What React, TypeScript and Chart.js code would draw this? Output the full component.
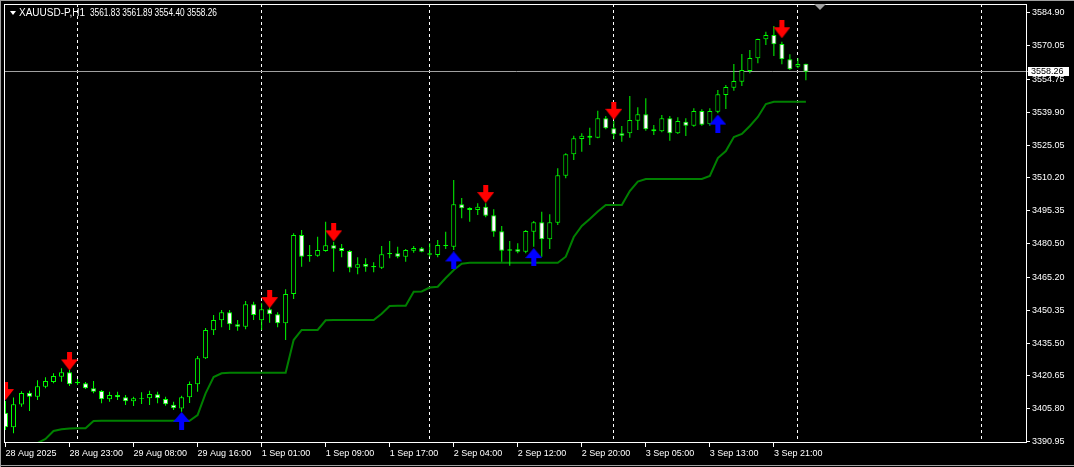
import React, { useEffect, useRef } from "react";
import { Chart, registerables } from "chart.js";

Chart.register(...registerables);

// ---- data (H1 candles, index 0 = 28 Aug 2025 15:00) ----
const OPEN = [
  3404.00, 3397.40, 3407.71, 3413.05, 3411.24, 3415.77, 3417.89, 3420.29, 3422.28, 3417.31,
  3417.31, 3415.04, 3413.82, 3410.07, 3412.01, 3410.97, 3409.16, 3410.20, 3410.52, 3412.32,
  3410.20, 3407.62, 3405.90, 3410.97, 3416.85, 3428.62, 3441.28, 3445.80, 3449.43, 3444.00,
  3442.91, 3453.04, 3445.80, 3450.78, 3448.52, 3444.45, 3457.70, 3484.40, 3474.76, 3475.03,
  3477.16, 3479.74, 3478.52, 3477.16, 3469.60, 3471.28, 3469.78, 3469.60, 3475.66, 3476.12,
  3474.58, 3477.30, 3478.38, 3475.48, 3475.35, 3479.42, 3479.10, 3498.28, 3496.61, 3495.71,
  3497.20, 3493.31, 3486.07, 3477.30, 3477.93, 3476.84, 3485.89, 3490.14, 3482.45, 3489.96,
  3511.22, 3520.90, 3527.83, 3529.32, 3528.41, 3537.19, 3532.67, 3530.41, 3530.41, 3536.10,
  3539.00, 3532.21, 3531.31, 3537.19, 3530.41, 3535.65, 3533.84, 3540.49, 3534.48, 3540.18,
  3547.73, 3551.03, 3553.75, 3558.59, 3564.33, 3572.93, 3574.88, 3570.80, 3563.88, 3560.50,
  3561.83,
];
const HIGH = [
  3409.30, 3410.88, 3413.69, 3413.91, 3418.66, 3420.02, 3421.83, 3424.09, 3423.32, 3419.25,
  3417.89, 3418.35, 3414.27, 3413.50, 3413.50, 3412.01, 3411.24, 3413.23, 3413.96, 3413.50,
  3411.24, 3408.98, 3411.70, 3418.12, 3429.66, 3442.32, 3448.20, 3450.47, 3450.47, 3445.94,
  3454.54, 3454.22, 3453.50, 3451.69, 3449.43, 3459.83, 3485.16, 3486.66, 3479.87, 3483.63,
  3490.41, 3481.36, 3480.33, 3477.61, 3474.31, 3473.86, 3472.05, 3479.42, 3481.68, 3479.10,
  3478.06, 3479.42, 3478.97, 3480.64, 3482.13, 3485.89, 3509.28, 3501.13, 3496.90, 3498.74,
  3498.74, 3496.02, 3488.47, 3481.68, 3480.64, 3486.66, 3490.73, 3494.94, 3493.76, 3514.57,
  3521.36, 3529.32, 3530.41, 3532.94, 3540.63, 3538.23, 3535.97, 3533.71, 3547.28, 3542.17,
  3546.24, 3534.16, 3538.68, 3538.23, 3537.64, 3537.19, 3541.72, 3541.26, 3541.72, 3549.99,
  3552.26, 3561.76, 3566.28, 3568.09, 3573.20, 3576.37, 3578.95, 3571.85, 3566.14, 3564.33,
  3561.89,
];
const LOW = [
  3396.18, 3394.68, 3406.72, 3404.77, 3409.75, 3415.04, 3417.31, 3418.03, 3416.08, 3416.54,
  3414.73, 3412.78, 3408.26, 3408.98, 3409.75, 3407.49, 3407.04, 3407.94, 3407.49, 3408.26,
  3407.17, 3405.23, 3404.46, 3408.39, 3413.50, 3428.30, 3439.16, 3442.64, 3441.42, 3441.10,
  3441.74, 3445.94, 3441.42, 3444.72, 3442.64, 3436.89, 3455.44, 3470.05, 3472.32, 3474.58,
  3476.84, 3467.79, 3474.31, 3467.52, 3466.62, 3467.79, 3467.52, 3469.01, 3473.86, 3473.86,
  3472.32, 3476.39, 3476.57, 3474.58, 3474.31, 3478.06, 3477.61, 3491.95, 3490.41, 3493.44,
  3492.40, 3483.63, 3472.32, 3470.51, 3476.12, 3476.12, 3479.10, 3474.58, 3478.06, 3488.92,
  3510.05, 3518.33, 3522.08, 3525.11, 3528.20, 3532.21, 3527.69, 3526.60, 3528.41, 3531.90,
  3531.58, 3529.64, 3530.86, 3527.06, 3530.09, 3529.18, 3533.39, 3533.84, 3533.84, 3539.45,
  3541.40, 3549.68, 3551.80, 3557.55, 3562.07, 3570.35, 3565.38, 3561.62, 3559.04, 3559.81,
  3554.40,
];
const CLOSE = [
  3397.40, 3407.85, 3412.92, 3411.24, 3415.99, 3418.35, 3420.61, 3422.28, 3416.85, 3418.03,
  3415.04, 3413.50, 3410.07, 3412.01, 3410.97, 3409.16, 3410.52, 3410.52, 3412.46, 3410.52,
  3407.80, 3406.00, 3410.97, 3416.99, 3428.62, 3441.42, 3445.94, 3449.43, 3444.00, 3442.91,
  3453.04, 3448.20, 3450.78, 3448.52, 3444.45, 3457.70, 3484.40, 3474.58, 3475.35, 3477.61,
  3479.74, 3478.20, 3477.16, 3469.60, 3471.14, 3470.05, 3470.37, 3475.66, 3476.25, 3474.58,
  3477.61, 3478.52, 3476.84, 3476.12, 3479.87, 3479.87, 3498.28, 3496.47, 3495.71, 3497.20,
  3493.13, 3485.89, 3477.30, 3477.93, 3476.84, 3486.21, 3490.14, 3482.45, 3490.14, 3511.40,
  3520.90, 3528.14, 3529.32, 3528.41, 3537.19, 3532.67, 3529.95, 3529.32, 3536.42, 3539.00,
  3532.21, 3531.31, 3537.19, 3530.41, 3535.97, 3533.84, 3540.49, 3534.30, 3540.49, 3548.05,
  3551.35, 3554.07, 3559.04, 3564.47, 3573.07, 3574.88, 3570.67, 3563.88, 3559.36, 3561.80,
  3558.26,
];
const TREND_LINE = [
  null, null, null, 3387.0, 3390.30, 3392.11, 3395.73, 3396.49, 3396.81, 3396.94,
  3396.94, 3400.25, 3400.39, 3400.39, 3400.39, 3400.39, 3400.39, 3400.39, 3400.39, 3400.39,
  3400.39, 3400.39, 3400.39, 3400.39, 3402.96, 3412.78, 3420.16, 3421.83, 3422.10, 3422.10,
  3422.10, 3422.10, 3422.10, 3422.10, 3422.10, 3422.10, 3436.89, 3441.42, 3441.42, 3441.42,
  3445.80, 3445.94, 3445.94, 3445.94, 3445.94, 3445.94, 3445.94, 3448.79, 3452.28, 3452.42,
  3452.42, 3458.75, 3458.84, 3460.64, 3461.01, 3464.94, 3468.56, 3471.40, 3471.80, 3471.80,
  3471.80, 3471.80, 3471.80, 3471.80, 3471.80, 3471.80, 3471.80, 3471.80, 3471.80, 3471.80,
  3474.58, 3483.49, 3488.47, 3491.63, 3495.03, 3497.97, 3497.97, 3497.97, 3504.30, 3508.60,
  3509.73, 3509.73, 3509.73, 3509.73, 3509.73, 3509.73, 3509.73, 3509.73, 3511.09, 3519.23,
  3522.40, 3528.73, 3530.09, 3533.71, 3537.78, 3543.66, 3544.70, 3544.70, 3544.70, 3544.70,
  3544.70,
];
const SELL_IDX = [0, 8, 33, 41, 60, 76, 97];
const SELL_PRICE = [3413.8, 3427.2, 3455.4, 3485.6, 3502.9, 3540.6, 3577.5];
const BUY_IDX = [22, 56, 66, 89];
const BUY_PRICE = [3400.3, 3472.9, 3474.4, 3534.8];

const X_LABEL_IDX = [0, 8, 16, 24, 32, 40, 48, 56, 64, 72, 80, 88, 96];
const X_LABELS = [
  "28 Aug 2025", "28 Aug 23:00", "29 Aug 08:00", "29 Aug 16:00", "1 Sep 01:00",
  "1 Sep 09:00", "1 Sep 17:00", "2 Sep 04:00", "2 Sep 12:00", "2 Sep 20:00",
  "3 Sep 05:00", "3 Sep 13:00", "3 Sep 21:00",
];
const DAY_SEP_IDX = [9, 32, 53, 76, 99, 122];
const Y_TICKS = [
  3584.90, 3570.05, 3554.75, 3539.90, 3525.05, 3510.20, 3495.35,
  3480.50, 3465.20, 3450.35, 3435.50, 3420.65, 3405.80, 3390.95,
];
const SYMBOL = "XAUUSD-P,H1";
const LAST_OHLC = ["3561.83", "3561.89", "3554.40", "3558.26"];
const BID = 3558.26;

const Y_MIN = 3390.3;
const Y_MAX = 3588.9;
const X_MIN = -0.0625;
const X_MAX = 127.5;

const FONT = "'Liberation Sans', Arial, sans-serif";

function makeArrow(color: string, down: boolean): HTMLCanvasElement {
  const c = document.createElement("canvas");
  c.width = 17;
  c.height = 18;
  const g = c.getContext("2d")!;
  g.fillStyle = color;
  g.beginPath();
  if (down) {
    g.moveTo(6, 0); g.lineTo(11, 0); g.lineTo(11, 7); g.lineTo(17, 7);
    g.lineTo(8.5, 18); g.lineTo(0, 7); g.lineTo(6, 7);
  } else {
    g.moveTo(8.5, 0); g.lineTo(17, 10); g.lineTo(11, 10); g.lineTo(11, 18);
    g.lineTo(6, 18); g.lineTo(6, 10); g.lineTo(0, 10);
  }
  g.closePath();
  g.fill();
  return c;
}

const noPad = (s: any) => {
  s.paddingLeft = 0;
  s.paddingRight = 0;
  s.paddingTop = 0;
  s.paddingBottom = 0;
};

const mt4Plugin = {
  id: "mt4Look",
  beforeDraw(chart: any) {
    const ctx = chart.ctx;
    ctx.save();
    ctx.fillStyle = "#000";
    ctx.fillRect(0, 0, chart.width, chart.height);
    ctx.restore();
  },
  beforeDatasetsDraw(chart: any) {
    const { ctx, chartArea } = chart;
    const y = Math.floor(chart.scales.y.getPixelForValue(BID)) + 0.5;
    ctx.save();
    ctx.strokeStyle = "#a0a0a0";
    ctx.lineWidth = 1;
    ctx.beginPath();
    ctx.moveTo(chartArea.left, y);
    ctx.lineTo(chartArea.right + 2, y);
    ctx.stroke();
    ctx.restore();
  },
  afterDatasetsDraw(chart: any) {
    const { ctx, chartArea } = chart;
    ctx.save();
    ctx.strokeStyle = "#fff";
    ctx.lineWidth = 1;
    ctx.strokeRect(chartArea.left - 0.5, chartArea.top + 0.5, chartArea.right - chartArea.left + 1, chartArea.bottom - chartArea.top - 1);
    ctx.restore();
  },
  afterDraw(chart: any) {
    const { ctx, chartArea } = chart;
    const row = Math.floor(chart.scales.y.getPixelForValue(BID));
    ctx.save();
    ctx.fillStyle = "#fff";
    ctx.fillRect(chartArea.right + 2, row - 4, 41, 9);
    ctx.fillStyle = "#000";
    ctx.font = "9px " + FONT;
    ctx.textBaseline = "middle";
    ctx.textAlign = "left";
    ctx.fillText(BID.toFixed(2), chartArea.right + 5, row + 0.5);
    // chart shift marker
    ctx.fillStyle = "#a0a0a0";
    ctx.beginPath();
    ctx.moveTo(814, chartArea.top);
    ctx.lineTo(826, chartArea.top);
    ctx.lineTo(820, chartArea.top + 6);
    ctx.closePath();
    ctx.fill();
    // window border
    ctx.fillStyle = "#a0a0a0";
    ctx.fillRect(0, 0, chart.width, 1);
    ctx.fillRect(0, 0, 1, chart.height);
    ctx.fillRect(0, chart.height - 2, chart.width, 1);
    ctx.restore();
  },
};

export default function App() {
  const ref = useRef<HTMLCanvasElement>(null);

  useEffect(() => {
    const canvas = ref.current;
    if (!canvas) return;
    const idx = OPEN.map((_, i) => i);
    const redArrow = makeArrow("#ff0000", true);
    const blueArrow = makeArrow("#0000ff", false);

    const chart = new Chart(canvas, {
      type: "bar",
      data: {
        datasets: [
          {
            type: "line",
            label: "trend",
            data: idx.filter((i) => TREND_LINE[i] != null).map((i) => ({ x: i, y: TREND_LINE[i] as number })),
            borderColor: "#008000",
            borderWidth: 2,
            pointRadius: 0,
            tension: 0,
            order: 4,
            clip: 0,
          } as any,
          {
            type: "bar",
            label: "wick",
            data: idx.map((i) => ({ x: i, y: [LOW[i], HIGH[i]] })),
            backgroundColor: "#00ff00",
            borderWidth: 0,
            barThickness: 1,
            grouped: false,
            inflateAmount: 0,
            order: 3,
            clip: 0,
          } as any,
          {
            type: "bar",
            label: "body",
            data: idx.map((i) => ({ x: i, y: [OPEN[i], CLOSE[i]] })),
            backgroundColor: idx.map((i) => (CLOSE[i] >= OPEN[i] ? "#000000" : "#ffffff")),
            borderColor: "#00ff00",
            borderWidth: 1,
            borderSkipped: false,
            barThickness: 5,
            grouped: false,
            inflateAmount: 0,
            order: 2,
            clip: 0,
          } as any,
          {
            type: "line",
            label: "sell",
            data: SELL_IDX.map((x, k) => ({ x, y: SELL_PRICE[k] })),
            showLine: false,
            pointStyle: redArrow,
            pointRadius: 9,
            order: 1,
            clip: 0,
          } as any,
          {
            type: "line",
            label: "buy",
            data: BUY_IDX.map((x, k) => ({ x, y: BUY_PRICE[k] })),
            showLine: false,
            pointStyle: blueArrow,
            pointRadius: 9,
            order: 0,
            clip: 0,
          } as any,
        ],
      },
      options: {
        animation: false,
        responsive: false,
        events: [],
        layout: { autoPadding: false, padding: { left: 5, top: 4, right: 0, bottom: 0 } },
        plugins: { legend: { display: false }, tooltip: { enabled: false }, title: { display: false } },
        scales: {
          x: {
            type: "linear",
            position: "bottom",
            min: X_MIN,
            max: X_MAX,
            offset: false,
            afterBuildTicks: (s: any) => { s.ticks = X_LABEL_IDX.map((v) => ({ value: v })); },
            afterFit: (s: any) => { s.height = 24; noPad(s); },
            ticks: {
              autoSkip: false,
              maxRotation: 0,
              minRotation: 0,
              align: "start",
              color: "#ffffff",
              padding: 1,
              font: { family: FONT, size: 9 },
              callback: (v: any) => {
                const k = X_LABEL_IDX.indexOf(Number(v));
                return k >= 0 ? X_LABELS[k] : "";
              },
            },
            grid: { offset: false, drawOnChartArea: false, drawTicks: true, tickLength: 4, tickColor: "#ffffff", color: "#ffffff" },
            border: { display: false },
          },
          xg: {
            type: "linear",
            position: "bottom",
            min: X_MIN,
            max: X_MAX,
            offset: false,
            afterBuildTicks: (s: any) => { s.ticks = DAY_SEP_IDX.map((v) => ({ value: v })); },
            afterFit: (s: any) => { s.height = 0; noPad(s); },
            ticks: { display: false },
            grid: { offset: false, drawOnChartArea: true, drawTicks: false, color: "#ffffff", lineWidth: 1 },
            border: { display: false, dash: [3, 3] },
          },
          y: {
            type: "linear",
            position: "right",
            min: Y_MIN,
            max: Y_MAX,
            afterBuildTicks: (s: any) => { s.ticks = Y_TICKS.map((v) => ({ value: v })); },
            afterFit: (s: any) => { s.width = 48; noPad(s); },
            ticks: {
              autoSkip: false,
              color: "#ffffff",
              padding: 2,
              font: { family: FONT, size: 9 },
              callback: (v: any) => Number(v).toFixed(2),
            },
            grid: { drawOnChartArea: false, drawTicks: true, tickLength: 4, tickColor: "#ffffff" },
            border: { display: false },
          },
        },
      } as any,
      plugins: [mt4Plugin],
    });
    return () => chart.destroy();
  }, []);

  return (
    <div style={{ position: "fixed", left: 0, top: 0, width: 1074, height: 467, background: "#000", overflow: "hidden" }}>
      <canvas ref={ref} width={1074} height={467} style={{ display: "block", width: 1074, height: 467 }} />
      <div
        style={{
          position: "absolute", left: 10, top: 11, width: 0, height: 0,
          borderLeft: "3px solid transparent", borderRight: "3px solid transparent", borderTop: "4px solid #ffffff",
        }}
      />
      <span style={{ position: "absolute", left: 19, top: 7, font: "10px " + FONT, lineHeight: "12px", color: "#ffffff", whiteSpace: "pre" }}>
        {SYMBOL}
      </span>
      <span
        style={{
          position: "absolute", left: 90, top: 7, font: "10px " + FONT, lineHeight: "12px", color: "#ffffff",
          whiteSpace: "pre", transform: "scaleX(0.83)", transformOrigin: "0 50%",
        }}
      >
        {LAST_OHLC.join(" ")}
      </span>
    </div>
  );
}
